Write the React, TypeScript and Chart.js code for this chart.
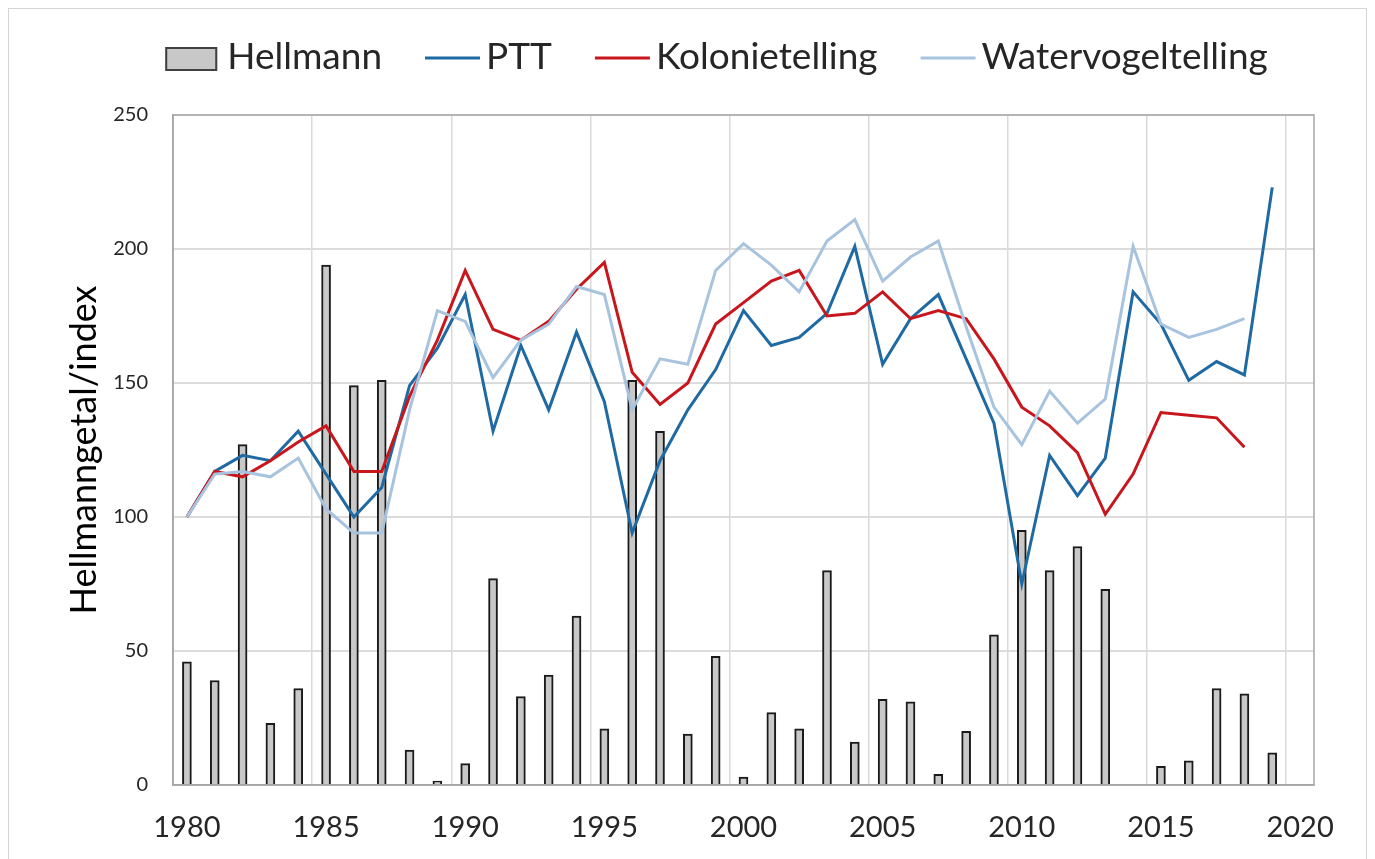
import React, { useEffect, useRef } from "react";
import { Chart, registerables } from "chart.js";

Chart.register(...registerables);

const years = [
  "1980", "1981", "1982", "1983", "1984", "1985", "1986", "1987", "1988", "1989",
  "1990", "1991", "1992", "1993", "1994", "1995", "1996", "1997", "1998", "1999",
  "2000", "2001", "2002", "2003", "2004", "2005", "2006", "2007", "2008", "2009",
  "2010", "2011", "2012", "2013", "2014", "2015", "2016", "2017", "2018", "2019",
  "2020",
];

const shownYearLabels = ["1980", "1985", "1990", "1995", "2000", "2005", "2010", "2015", "2020"];

const hellmann = [
  46, 39, 127, 23, 36, 194, 149, 151, 13, 1.5,
  8, 77, 33, 41, 63, 21, 151, 132, 19, 48,
  3, 27, 21, 80, 16, 32, 31, 4, 20, 56,
  95, 80, 89, 73, null, 7, 9, 36, 34, 12,
  null,
];

const ptt = [
  100, 117, 123, 121, 132, 116, 100, 111, 149, 163,
  183, 132, 164, 140, 169, 143, 94, 121, 140, 155,
  177, 164, 167, 176, 201, 157, 174, 183, 159, 135,
  75, 123, 108, 122, 184, 172, 151, 158, 153, 223,
  null,
];

const kolonietelling = [
  100, 117, 115, 121, 128, 134, 117, 117, 145, 166,
  192, 170, 166, 173, 185, 195, 154, 142, 150, 172,
  180, 188, 192, 175, 176, 184, 174, 177, 174, 159,
  141, 134, 124, 101, 116, 139, 138, 137, 126, null,
  null,
];

const watervogeltelling = [
  100, 116, 117, 115, 122, 103, 94, 94, 140, 177,
  173, 152, 166, 172, 186, 183, 140, 159, 157, 192,
  202, 194, 184, 203, 211, 188, 197, 203, 171, 141,
  127, 147, 135, 144, 201, 172, 167, 170, 174, null,
  null,
];

const yTicks = [0, 50, 100, 150, 200, 250];

const FONT = "Lato, 'Open Sans', sans-serif";

const plotFrame = {
  id: "plotFrame",
  beforeDatasetsDraw(chart: any) {
    const { ctx, chartArea } = chart;
    ctx.save();
    ctx.strokeStyle = "#a6a6a6";
    ctx.lineWidth = 1.5;
    ctx.strokeRect(chartArea.left, chartArea.top, chartArea.right - chartArea.left, chartArea.bottom - chartArea.top);
    ctx.restore();
  },
};

const topLegend = {
  id: "topLegend",
  afterDraw(chart: any) {
    const { ctx, chartArea } = chart;
    ctx.save();
    ctx.font = `37px ${FONT}`;
    const boxW = 52;
    const boxH = 24;
    const lineW = 55;
    const boxGap = 10;
    const lineGap = 6;
    const itemGap = 43;
    const items = chart.data.datasets.map((ds: any) => {
      const isBar = ds.type === "bar";
      const markerW = isBar ? boxW : lineW;
      const gap = isBar ? boxGap : lineGap;
      const tw = ctx.measureText(ds.label).width;
      return { ds, markerW, gap, tw };
    });
    const total =
      items.reduce((s: number, it: any) => s + it.markerW + it.gap + it.tw, 0) + itemGap * (items.length - 1);
    const center = (chartArea.left + chartArea.right) / 2 - 27;
    let x = center - total / 2;
    const midY = 59;
    const baseY = 69;
    for (const it of items) {
      const ds = it.ds;
      if (ds.type === "bar") {
        ctx.fillStyle = ds.backgroundColor;
        ctx.fillRect(x, midY - boxH / 2, boxW, boxH);
        ctx.strokeStyle = "#404040";
        ctx.lineWidth = 2;
        ctx.strokeRect(x + 1, midY - boxH / 2 + 1, boxW - 2, boxH - 2);
      } else {
        ctx.strokeStyle = ds.borderColor;
        ctx.lineWidth = 3;
        ctx.beginPath();
        ctx.moveTo(x, midY - 1);
        ctx.lineTo(x + lineW, midY - 1);
        ctx.stroke();
      }
      x += it.markerW + it.gap;
      ctx.fillStyle = "#262626";
      ctx.textBaseline = "alphabetic";
      ctx.textAlign = "left";
      ctx.fillText(ds.label, x, baseY);
      x += it.tw + itemGap;
    }
    ctx.restore();
  },
};

export default function App() {
  const canvasRef = useRef<HTMLCanvasElement | null>(null);

  useEffect(() => {
    if (!canvasRef.current) return;
    const chart = new Chart(canvasRef.current, {
      type: "bar",
      data: {
        labels: years,
        datasets: [
          {
            type: "bar",
            label: "Hellmann",
            data: hellmann,
            backgroundColor: "#c8c8c8",
            borderColor: "#1a1a1a",
            borderWidth: 2,
            barThickness: 9,
            order: 4,
          } as any,
          {
            type: "line",
            label: "PTT",
            data: ptt,
            borderColor: "#1f6aa3",
            backgroundColor: "#1f6aa3",
            borderWidth: 3,
            pointRadius: 0,
            tension: 0,
            order: 3,
          },
          {
            type: "line",
            label: "Kolonietelling",
            data: kolonietelling,
            borderColor: "#c8161d",
            backgroundColor: "#c8161d",
            borderWidth: 3,
            pointRadius: 0,
            tension: 0,
            order: 2,
          },
          {
            type: "line",
            label: "Watervogeltelling",
            data: watervogeltelling,
            borderColor: "#a7c3de",
            backgroundColor: "#a7c3de",
            borderWidth: 3,
            pointRadius: 0,
            tension: 0,
            order: 1,
          },
        ],
      },
      options: {
        responsive: false,
        animation: false,
        layout: { padding: { top: 115, right: 61, bottom: 0, left: 0 } },
        plugins: {
          legend: { display: false },
          tooltip: { enabled: false },
        },
        scales: {
          x: {
            type: "category",
            offset: true,
            afterFit: (scale: any) => {
              scale.height = 74;
            },
            grid: {
              offset: true,
              drawTicks: false,
              lineWidth: 1.5,
              color: (ctx: any) => (ctx.index % 5 === 0 ? "#d9d9d9" : "rgba(0,0,0,0)"),
            },
            border: { display: true, color: "#a6a6a6", width: 1.5 },
            ticks: {
              autoSkip: false,
              maxRotation: 0,
              padding: 25,
              color: "#262626",
              font: { family: FONT, size: 29 },
              callback: function (this: any, value: any) {
                const lab = this.getLabelForValue(value);
                return shownYearLabels.includes(lab) ? lab : "";
              },
            },
          },
          y: {
            min: 0,
            max: 250,
            afterFit: (scale: any) => {
              scale.width = 173;
            },
            afterBuildTicks: (scale: any) => {
              scale.ticks = yTicks.map((v) => ({ value: v }));
            },
            grid: {
              drawTicks: false,
              lineWidth: 2,
              color: "#dcdcdc",
            },
            border: { display: true, color: "#a6a6a6", width: 1.5 },
            ticks: {
              padding: 25,
              color: "#262626",
              font: { family: FONT, size: 20 },
            },
            title: {
              display: true,
              text: "Hellmanngetal/index",
              color: "#000000",
              font: { family: FONT, size: 36 },
              padding: { top: 63, bottom: 0 },
            },
          },
        },
      },
      plugins: [plotFrame, topLegend],
    });
    return () => chart.destroy();
  }, []);

  return (
    <div
      style={{
        position: "fixed",
        left: 0,
        top: 0,
        width: 1375,
        height: 859,
        overflow: "hidden",
        background: "#ffffff",
      }}
    >
      <div
        style={{
          position: "absolute",
          left: 8,
          top: 8,
          width: 1359,
          height: 900,
          border: "1px solid #d4d4d4",
          boxSizing: "border-box",
        }}
      />
      <canvas
        ref={canvasRef}
        width={1375}
        height={859}
        style={{ position: "absolute", left: 0, top: 0, width: 1375, height: 859 }}
      />
    </div>
  );
}
